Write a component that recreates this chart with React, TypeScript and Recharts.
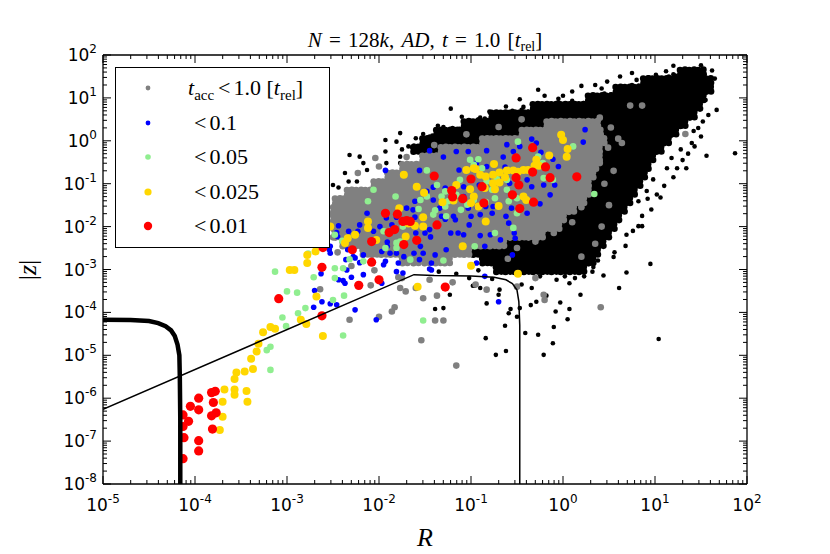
import React from "react";
import { ScatterChart, Scatter, XAxis, YAxis } from "recharts";

type P = [number, number]; // [log10 R, log10 |z|]
type Row = [number, number[]]; // [log10 |z|, log10 R values along that row]

const xExponents = [-5, -4, -3, -2, -1, 0, 1, 2];
const yExponents = [-8, -7, -6, -5, -4, -3, -2, -1, 0, 1, 2];
const minorSteps = [2, 3, 4, 5, 6, 7, 8, 9];

// dense black part of the cloud
const blackCore: Row[] = [
  [1.6, [1.3, 1.4, 1.5]],
  [1.4, [0.9, 1.0, 1.1, 1.2, 1.3, 1.4, 1.5, 1.58]],
  [1.2, [0.6, 0.7, 0.8, 0.9, 1.0, 1.1, 1.2, 1.3, 1.4, 1.5, 1.58]],
  [1.0, [0.3, 0.4, 0.5, 0.6, 0.7, 0.8, 0.9, 1.0, 1.1, 1.2, 1.3, 1.4, 1.5]],
  [0.8, [-0.3, -0.2, -0.1, 0.0, 0.1, 0.2, 0.3, 0.4, 0.5, 0.6, 0.7, 0.8, 0.9, 1.0, 1.1, 1.2, 1.3, 1.4, 1.46]],
  [0.6, [-0.75, -0.65, -0.55, -0.45, -0.35, -0.25, -0.15, -0.05, 0.05, 0.15, 0.25, 0.35, 0.45, 0.55, 0.65, 0.75, 0.85, 0.95, 1.05, 1.15, 1.25, 1.35, 1.4]],
  [0.4, [-1.05, -0.95, -0.85, -0.75, -0.65, -0.55, -0.45, -0.35, -0.25, -0.15, -0.05, 0.05, 0.15, 0.25, 0.35, 0.45, 0.55, 0.65, 0.75, 0.85, 0.95, 1.05, 1.15, 1.25, 1.3]],
  [0.2, [-1.35, -1.25, -1.15, -1.05, -0.95, -0.85, -0.75, -0.65, -0.55, -0.45, -0.35, -0.25, -0.15, -0.05, 0.05, 0.15, 0.25, 0.35, 0.45, 0.55, 0.65, 0.75, 0.85, 0.95, 1.05, 1.15, 1.2]],
  [0.0, [-1.5, -1.4, -1.3, -1.2, -1.1, -1.0, -0.9, 0.45, 0.55, 0.65, 0.75, 0.85, 0.95, 1.05, 1.12]],
  [-0.2, [-1.6, -1.5, -1.4, 0.45, 0.55, 0.65, 0.75, 0.85, 0.95, 1.04]],
  [-0.4, [0.45, 0.55, 0.65, 0.75, 0.85, 0.95]],
  [-0.6, [0.4, 0.5, 0.6, 0.7, 0.8, 0.9]],
  [-0.8, [0.4, 0.5, 0.6, 0.7, 0.8, 0.86]],
  [-1.0, [0.35, 0.45, 0.55, 0.65, 0.75, 0.81]],
  [-1.2, [0.3, 0.4, 0.5, 0.6, 0.7, 0.75]],
  [-1.4, [0.25, 0.35, 0.45, 0.55, 0.65, 0.7]],
  [-1.6, [0.15, 0.25, 0.35, 0.45, 0.55, 0.64]],
  [-1.8, [0.05, 0.15, 0.25, 0.35, 0.45, 0.52, 0.58]],
  [-2.0, [0.0, 0.1, 0.2, 0.3, 0.4, 0.48, 0.53]],
  [-2.2, [-0.25, -0.15, -0.05, 0.05, 0.15, 0.25, 0.35, 0.42, 0.47]],
  [-2.4, [-0.65, -0.55, -0.45, -0.35, -0.25, -0.15, -0.05, 0.05, 0.15, 0.25, 0.35, 0.41]],
  [-2.6, [-0.95, -0.85, -0.75, -0.65, -0.55, -0.45, -0.35, -0.25, -0.15, -0.05, 0.05, 0.15, 0.25, 0.35]],
  [-2.8, [-0.85, -0.75, -0.65, -0.55, -0.45, -0.35, -0.25, -0.15, -0.05, 0.05, 0.15, 0.25, 0.3]],
  [-3.0, [-0.7, -0.6, -0.5, -0.4, -0.3, -0.2, -0.1, 0.0, 0.1, 0.2]],
];

const blackSparse: P[] = [
  [-2.32, -0.33], [-2.21, -0.37], [-2.5, -1.03], [-2.37, -0.75], [-2.33, -0.95], [-1.93, -0.25],
  [-1.68, -0.13], [-1.62, -0.11], [-1.77, -0.37], [-1.92, -0.52], [-2.13, -0.68], [-1.22, 0.75],
  [-1.36, 0.35], [-1.77, 0.18], [-1.93, 0.02], [-1.81, -0.02], [-1.52, 0.16], [-0.98, 0.39],
  [-0.69, 0.59], [-0.49, 0.65], [-2.17, -0.52], [-2.24, -0.95], [-2.44, -1.09], [-1.77, -0.52],
  [-2.37, -1.76], [-0.9, 0.54], [-0.27, 1.19], [0.48, 1.38], [0.93, 1.48], [1.01, 1.54],
  [1.38, 1.66], [1.62, 1.64], [1.67, 0.72], [1.87, -0.29], [1.56, -0.35], [1.43, -0.13],
  [1.34, -0.64], [1.24, -0.64], [1.13, -0.64], [0.82, -1.41], [0.82, -1.99], [0.86, -1.99],
  [0.69, -2.19], [0.95, -2.87], [0.69, -3.07], [-0.47, 0.97], [-1.52, -0.05], [-1.23, -3.59],
  [-1.3, -3.9], [-1.39, -3.92], [-0.98, -3.38], [-0.96, -3.38], [-0.84, -4.6], [-0.73, -4.99],
  [-0.62, -4.9], [-0.63, -4.31], [-0.59, -4.02], [-0.57, -3.92], [-0.5, -4.1], [-0.41, -4.48],
  [-0.27, -4.52], [-0.21, -4.99], [-0.11, -4.72], [-0.1, -4.34], [-0.08, -3.98], [-0.03, -3.77],
  [0.05, -4.16], [0.07, -3.92], [0.19, -3.59], [0.44, -3.14], [0.61, -3.43], [1.04, -4.62],
  [-0.35, -3.83], [-0.29, -3.75], [-0.18, -3.61], [-0.7, -3.59], [-0.69, -3.47], [-0.83, -3.79],
  [0.02, -3.16], [0.13, -3.2], [0.22, -3.05], [0.33, -2.94], [0.43, -2.42], [-0.47, -3.9],
  [0.07, -3.32], [0.29, -2.56], [0.38, -2.79], [0.55, -2.71], [0.23, -3.16], [-0.07, -3.24],
  [-0.25, -3.16], [-0.34, -3.43], [-0.9, -3.43], [1.5, 0.1], [1.42, 0.23], [1.06, -1.32],
  [0.91, -1.17], [-0.43, 0.79], [0.8, 1.42], [0.1, 1.15], [0.2, 1.28], [0.62, 1.5],
  [0.75, 1.58], [1.2, 1.75], [1.5, 1.76], [1.56, 1.45], [1.6, 1.2], [1.55, 0.95],
  [1.52, 0.45], [1.47, 0.3], [1.36, -0.3], [1.3, -0.45], [1.2, -0.85], [1.1, -1.05],
  [1.02, -1.25], [0.96, -1.6], [0.86, -1.75], [0.76, -2.1], [0.68, -2.45], [0.56, -2.6],
  [-0.2, 1.05], [-0.62, 0.8], [-1.1, 0.56], [-1.3, 0.32], [-1.6, 0.06], [-1.75, -0.2],
  [-0.92, -3.02], [-0.77, -3.22], [-0.45, -3.35], [-0.15, -3.02], [0.06, -2.97], [0.32, -3.05],
  [-1.02, -3.2], [-1.16, -3.1], [-1.35, -3.05], [1.2, 1.55], [1.48, 1.3], [1.58, 0.6],
  [1.4, -0.05], [1.28, -0.2], [0.0, 1.05], [0.35, 1.3], [1.65, 1.45], [1.12, 1.62],
  [0.42, 1.22], [-0.05, 0.98], [-0.8, 0.68], [1.18, -0.4], [0.98, -0.9], [0.92, -1.35],
  [-0.05, 0.9], [0.1, 0.93], [0.22, 0.88], [0.45, 1.1], [0.52, 1.08], [0.75, 1.3],
  [0.82, 1.28], [1.15, 1.5], [1.22, 1.52], [-0.55, 0.7], [-0.45, 0.72], [-0.38, 0.68],
  [-0.92, 0.5], [-0.85, 0.52], [-1.2, 0.3], [-1.15, 0.28], [-1.45, 0.1], [-1.42, 0.12],
  [-0.45, -2.3], [-0.35, -2.28], [-0.8, -2.5], [-0.72, -2.52], [0.55, -1.9], [0.6, -1.7],
];

// grey band
const greyCore: Row[] = [
  [0.4, [-0.15, -0.05, 0.05, 0.15, 0.25, 0.35]],
  [0.2, [-0.42, -0.32, -0.22, -0.12, -0.02, 0.08, 0.18, 0.28, 0.38]],
  [0.0, [-0.85, -0.75, -0.65, -0.55, -0.45, -0.35, -0.25, -0.15, -0.05, 0.05, 0.15, 0.25, 0.35, 0.42]],
  [-0.2, [-1.3, -1.2, -1.1, -1.0, -0.9, -0.8, -0.7, -0.6, -0.5, -0.4, -0.3, -0.2, -0.1, 0.0, 0.1, 0.2, 0.3, 0.37]],
  [-0.4, [-1.5, -1.4, -1.3, -1.2, -1.1, -1.0, -0.9, -0.8, -0.7, -0.6, -0.5, -0.4, -0.3, -0.2, -0.1, 0.0, 0.1, 0.2, 0.3, 0.37]],
  [-0.6, [-1.72, -1.62, -1.52, -1.42, -1.32, -1.22, -1.12, -1.02, -0.92, -0.82, -0.72, -0.62, -0.52, -0.42, -0.32, -0.22, -0.12, -0.02, 0.08, 0.18, 0.28, 0.33]],
  [-0.8, [-1.88, -1.78, -1.68, -1.58, -1.48, -1.38, -1.28, -1.18, -1.08, -0.98, -0.88, -0.78, -0.68, -0.58, -0.48, -0.38, -0.28, -0.18, -0.08, 0.02, 0.12, 0.22, 0.3]],
  [-1.0, [-2.03, -1.93, -1.83, -1.73, -1.63, -1.53, -1.43, -1.33, -1.23, -1.13, -1.03, -0.93, -0.83, -0.73, -0.63, -0.53, -0.43, -0.33, -0.23, -0.13, -0.03, 0.07, 0.17, 0.25]],
  [-1.2, [-2.32, -2.22, -2.12, -2.02, -1.92, -1.82, -1.72, -1.62, -1.52, -1.42, -1.32, -1.22, -1.12, -1.02, -0.92, -0.82, -0.72, -0.62, -0.52, -0.42, -0.32, -0.22, -0.12, -0.02, 0.08, 0.18, 0.25]],
  [-1.4, [-2.45, -2.35, -2.25, -2.15, -2.05, -1.95, -1.85, -1.75, -1.65, -1.55, -1.45, -1.35, -1.25, -1.15, -1.05, -0.95, -0.85, -0.75, -0.65, -0.55, -0.45, -0.35, -0.25, -0.15, -0.05, 0.05, 0.15, 0.2]],
  [-1.6, [-2.47, -2.37, -2.27, -2.17, -2.07, -1.97, -1.87, -1.77, -1.67, -1.57, -1.47, -1.37, -1.27, -1.17, -1.07, -0.97, -0.87, -0.77, -0.67, -0.57, -0.47, -0.37, -0.27, -0.17, -0.07, 0.03, 0.09]],
  [-1.8, [-2.47, -2.37, -2.27, -2.17, -2.07, -1.97, -1.87, -1.77, -1.67, -1.57, -1.47, -1.37, -1.27, -1.17, -1.07, -0.97, -0.87, -0.77, -0.67, -0.57, -0.47, -0.37, -0.27, -0.17, -0.07, -0.02]],
  [-2.0, [-2.47, -2.37, -2.27, -2.17, -2.07, -1.97, -1.87, -1.77, -1.67, -1.57, -1.47, -1.37, -1.27, -1.17, -1.07, -0.97, -0.87, -0.77, -0.67, -0.57, -0.47, -0.37, -0.27, -0.17, -0.07]],
  [-2.2, [-2.45, -2.35, -2.25, -2.15, -2.05, -1.95, -1.85, -1.75, -1.65, -1.55, -1.45, -1.35, -1.25, -1.15, -1.05, -0.95, -0.85, -0.75, -0.65, -0.55, -0.45, -0.35, -0.25]],
  [-2.4, [-2.37, -2.27, -2.17, -2.07, -1.97, -1.87, -1.77, -1.67, -1.57, -1.47, -1.37, -1.27, -1.17, -1.07, -0.97, -0.87, -0.77, -0.67]],
  [-2.6, [-2.15, -2.05, -1.95, -1.85, -1.75, -1.65, -1.55, -1.45, -1.35, -1.25, -1.15, -1.05]],
  [-2.8, [-1.72, -1.6, -1.48, -1.36, -1.26]],
];

const greySparse: P[] = [
  [-1.77, -3.43], [-1.83, -3.88], [-1.86, -3.98], [-2.0, -4.1], [-2.32, -4.17], [-2.64, -3.46],
  [-1.71, -3.51], [-2.09, -3.37], [-1.79, -3.18], [-1.54, -4.65], [-1.52, -3.67], [-1.39, -4.19],
  [-1.3, -4.19], [-1.16, -5.24], [-0.83, -3.47], [-0.2, -3.71], [0.41, -3.88], [-1.45, -3.24],
  [-1.6, -3.43], [-1.37, -3.61], [-0.21, -3.59], [0.73, 0.82], [0.86, 0.82], [0.4, 0.54],
  [0.52, 0.31], [0.64, -0.05], [0.49, -0.16], [1.33, 0.16], [0.29, -0.33], [0.4, -0.52],
  [0.18, 0.14], [-2.23, -0.75], [-2.5, -1.69], [-2.35, -1.38], [-2.04, -0.4], [-2.55, -1.9],
  [-2.5, -2.25], [-2.45, -2.6], [-2.3, -2.92], [-2.05, -3.02], [-1.75, -3.2], [-1.2, -3.3],
  [-0.95, -3.35], [-0.5, -3.4], [-0.3, -3.2], [-2.6, -1.5], [-2.3, -1.15], [-2.0, -0.6],
  [-1.7, -0.38], [-1.4, -0.1], [-1.05, 0.15], [-0.7, 0.32], [-0.45, 0.5], [0.45, -1.0],
  [0.5, -1.5], [0.42, -2.0], [0.35, -2.4], [0.2, -2.7], [0.55, -0.7], [0.6, 0.05],
  [-0.5, -2.5], [-0.3, -2.35], [-0.6, -2.75], [0.1, -1.9], [0.2, -1.55], [-0.1, -2.15],
];

const bluePts: P[] = [
  [-2.26, -3.94], [-2.03, -4.17], [-2.71, -3.88], [-2.62, -3.75], [-2.53, -3.8], [-2.46, -3.82],
  [-2.37, -3.32], [-2.3, -3.18], [-2.17, -3.12], [-2.63, -3.1], [-1.81, -3.05], [-2.7, -3.49],
  [-2.35, -3.01], [-2.44, -3.24], [-2.39, -3.26], [-2.44, -1.98], [-2.46, -2.14], [-2.33, -2.11],
  [-2.53, -2.62], [-2.53, -2.46], [-2.36, -2.77], [-1.95, -2.89], [-1.79, -2.85], [-1.74, -3.08],
  [-1.81, -2.62], [-1.88, -2.62], [-1.97, -2.58], [-2.23, -2.11], [-2.17, -2.66], [-2.28, -2.7],
  [-1.45, -0.23], [-1.3, -0.38], [-1.93, -0.69], [-1.56, -0.69], [-1.13, -0.68], [-1.03, -0.25],
  [-0.83, -0.23], [-0.61, -0.09], [-1.41, -1.08], [-1.41, -1.38], [-1.34, -1.57], [-1.7, -1.57],
  [-1.63, -1.61], [-1.61, -1.78], [-1.81, -1.78], [-1.86, -1.96], [-1.92, -1.8], [-1.99, -2.0],
  [-2.06, -2.11], [-2.21, -1.96], [-2.13, -1.69], [-2.45, -2.23], [-2.54, -2.54], [-2.34, -2.54],
  [-2.26, -2.73], [-2.21, -2.84], [-1.93, -2.81], [-1.91, -2.46], [-1.73, -2.7], [-1.62, -2.62],
  [-1.56, -2.77], [-1.44, -2.24], [-1.45, -2.99], [-1.14, -2.15], [-1.02, -1.96], [-1.03, -1.57],
  [-0.9, -1.72], [-0.79, -2.19], [-0.62, -1.76], [-0.56, -1.57], [-1.19, -1.76], [-1.28, -1.83],
  [-1.48, -1.18], [-1.61, -1.41], [-1.28, -1.1], [-1.08, -1.3], [-0.65, -0.38], [-0.54, -0.25],
  [-0.76, -1.53], [-1.16, -0.25], [-0.47, -0.13], [-0.34, 0.04], [-0.29, -0.05], [-0.24, -0.27],
  [-0.11, -0.43], [-0.05, -0.6], [-0.09, -1.03], [-0.21, -1.03], [-0.14, -1.26], [-0.25, -1.47],
  [-0.39, -1.69], [0.24, 0.26], [0.22, -0.03], [-0.53, -2.15], [-0.68, -2.31], [-0.59, -1.92],
  [-0.85, -2.46], [-1.27, -2.54], [-1.43, -2.85], [-1.55, -2.46], [-0.34, -1.07], [-0.39, -0.91],
  [-0.58, -0.99], [-0.63, -0.61], [-0.75, -0.52], [-0.83, -0.6], [-0.94, -0.52], [-0.91, -1.03],
  [-1.08, -1.07], [-1.1, -1.34], [-0.94, -1.53], [-0.84, -1.53], [-0.77, -1.69], [-1.0, -1.76],
  [-1.17, -1.84], [-1.32, -1.76], [-1.45, -2.07], [-1.5, -2.15], [-1.22, -2.15], [-1.08, -2.19],
  [-1.39, -2.66], [-1.43, -3.01], [-0.94, -2.85], [-0.85, -3.16], [-0.55, -2.66], [-0.7, -3.75],
  [-0.52, -2.27], [-1.97, -3.32], [-1.52, -2.62], [-1.6, -2.15], [-1.91, -2.36], [-0.9, -2.21],
];

const greenPts: P[] = [
  [-3.13, -3.05], [-3.0, -3.51], [-2.89, -3.54], [-3.05, -4.12], [-3.01, -4.32], [-2.88, -4.02],
  [-2.8, -3.9], [-2.71, -3.18], [-2.48, -3.2], [-2.38, -3.61], [-2.39, -4.54], [-3.18, -5.34],
  [-3.22, -4.88], [-3.18, -4.8], [-2.5, -3.71], [-2.48, -2.97], [-2.32, -2.76], [-2.4, -2.33],
  [-2.48, -2.19], [-2.17, -2.81], [-1.93, -2.5], [-1.81, -2.38], [-1.95, -2.11], [-1.74, -2.0],
  [-2.06, -1.14], [-2.12, -1.41], [-1.82, -1.3], [-1.57, -1.59], [-1.48, -0.69], [-1.32, -1.3],
  [-1.16, -1.26], [-0.97, -0.56], [-0.97, -1.38], [-0.88, -0.64], [-0.74, -1.34], [-0.61, -1.14],
  [-0.5, -1.34], [-0.5, -1.69], [-0.74, -2.15], [-0.96, -2.46], [-1.3, -2.79], [-1.77, -2.35],
  [-1.81, -2.5], [-2.39, -2.97], [-2.77, -2.63], [-1.28, -1.53], [-1.27, -1.76], [-1.12, -0.91],
  [-1.01, -0.44], [-0.92, -0.43], [-0.72, -0.89], [-0.61, -0.91], [-1.41, -1.72], [0.11, -0.13],
  [-0.49, -0.02], [-0.27, -0.37], [-0.22, -0.52], [-0.21, -0.87], [-0.11, -0.91], [-0.59, -1.41],
  [-0.83, -0.95], [-0.77, -1.14], [-1.37, -1.03], [-1.28, -1.18], [-1.25, -1.41], [-1.04, -1.49],
  [-0.84, -1.43], [-1.55, -1.38], [-1.48, -1.3], [-1.39, -1.62], [-1.11, -1.61], [-0.54, -2.03],
  [0.34, -1.24], [-1.66, -2.77], [-1.52, -4.19],
];

const goldPts: P[] = [
  [-3.26, -4.46], [-3.18, -4.34], [-3.13, -4.38], [-2.85, -4.17], [-2.79, -4.27], [-2.61, -4.55],
  [-2.68, -3.63], [-3.31, -4.73], [-3.33, -4.91], [-3.39, -5.08], [-3.37, -5.32], [-3.55, -5.4],
  [-3.46, -5.38], [-3.57, -5.55], [-3.68, -5.8], [-3.57, -5.8], [-3.44, -5.83], [-3.57, -5.92],
  [-3.43, -6.08], [-3.7, -6.08], [-3.7, -6.43], [-3.73, -6.74], [-2.97, -3.01], [-2.92, -3.01],
  [-2.78, -2.66], [-2.69, -2.58], [-2.53, -2.0], [-2.34, -2.27], [-2.26, -2.19], [-2.12, -2.03],
  [-2.78, -2.85], [-2.37, -2.38], [-2.03, -2.31], [-1.73, -0.79], [-1.59, -1.07], [-1.51, -1.21],
  [-1.31, -1.43], [-1.16, -1.03], [-1.05, -0.68], [-0.95, -0.66], [-0.75, -0.54], [-0.63, -0.85],
  [-0.54, -0.69], [-0.74, -1.13], [-0.7, -1.52], [-0.84, -1.88], [-1.09, -2.46], [-1.0, -2.91],
  [-1.68, -1.93], [-1.61, -1.98], [-1.52, -2.0], [-1.52, -1.78], [-1.71, -2.23], [-1.78, -1.57],
  [-2.12, -1.88], [-1.01, -1.13], [-0.97, -1.3], [-0.85, -1.1], [-0.92, -1.53], [-0.76, -0.99],
  [-0.61, -0.69], [-0.49, -0.72], [-1.19, -1.39], [-0.9, -0.79], [-0.02, 0.14], [0.0, 0.02],
  [0.04, -0.37], [0.05, -0.19], [-0.15, -0.34], [-0.29, -0.44], [-0.31, -0.58], [-0.26, -0.58],
  [-0.38, -0.68], [-0.43, -0.68], [-0.69, -0.74], [-0.76, -0.79], [-0.84, -0.83], [-0.97, -0.64],
  [-0.69, -0.97], [-0.43, -1.3], [-0.4, -1.38], [-1.0, -1.45], [-0.49, -3.1], [-1.58, -3.4],
];

const redPts: P[] = [
  [-4.13, -6.39], [-4.13, -6.66], [-4.12, -6.92], [-4.13, -7.41], [-4.07, -6.54], [-4.05, -6.19],
  [-3.96, -6.0], [-3.96, -6.27], [-3.96, -6.99], [-3.96, -7.23], [-3.82, -5.87], [-3.8, -6.1],
  [-3.82, -6.41], [-3.81, -6.72], [-3.77, -6.34], [-3.78, -5.84], [-3.09, -3.68], [-2.62, -4.08],
  [-2.22, -3.37], [-2.0, -3.24], [-2.62, -2.95], [-2.61, -2.49], [-2.29, -2.54], [-2.08, -2.35],
  [-2.08, -2.83], [-1.89, -2.14], [-1.83, -2.07], [-1.73, -2.42], [-1.66, -1.88], [-1.4, -0.82],
  [-1.0, -0.89], [-0.88, -1.07], [-1.21, -1.16], [-1.2, -1.31], [-1.09, -1.35], [-0.86, -1.45],
  [-0.55, -1.26], [-0.51, -0.4], [-0.51, -0.86], [-1.93, -1.69], [-1.8, -1.71], [-1.74, -1.88],
  [-1.7, -1.86], [-1.37, -1.96], [-1.59, -2.32], [-0.47, -1.58], [-0.48, -1.03], [-0.33, -0.16],
  [-0.19, -0.61], [-0.14, -0.86], [-0.33, -0.73], [-0.32, -1.43], [0.15, -0.84], [-1.28, -3.41],
];

// thick curve on the left, thin line bending down near R = 0.34
const thickCurve: P[] = [
  [-5, -4.17], [-4.7, -4.18], [-4.5, -4.2], [-4.4, -4.25], [-4.32, -4.32], [-4.26, -4.42],
  [-4.22, -4.55], [-4.19, -4.75], [-4.17, -5.0], [-4.165, -5.5], [-4.16, -6.5], [-4.16, -8],
];
const thinCurve: P[] = [
  [-5, -6.26], [-1.62, -3.12], [-1.4, -3.14], [-1.0, -3.15], [-0.75, -3.18], [-0.62, -3.24],
  [-0.55, -3.33], [-0.5, -3.48], [-0.48, -3.75], [-0.47, -4.3], [-0.47, -8],
];

const toXY = (pts: P[]) => pts.map(([r, z]) => ({ R: 10 ** r, z: 10 ** z }));
const fromRows = (rows: Row[]) =>
  rows.flatMap(([z, rs]) => rs.map((r) => ({ R: 10 ** r, z: 10 ** z })));

const legendItems = [
  { key: "grey", color: "#808080", r: 2.4 },
  { key: "blue", color: "#0000ff", r: 2.4 },
  { key: "green", color: "#90ee90", r: 2.8 },
  { key: "gold", color: "#ffd700", r: 3.6 },
  { key: "red", color: "#ff0000", r: 4.2 },
];
const legendLabels = ["<1.0", "<0.1", "<0.05", "<0.025", "<0.01"];

const withMinor = (exps: number[]) =>
  exps.flatMap((e, i) =>
    i < exps.length - 1 ? [10 ** e, ...minorSteps.map((m) => m * 10 ** e)] : [10 ** e]
  );
const xTicks = withMinor(xExponents);
const yTicks = withMinor(yExponents);

const isMajor = (v: number) => Math.abs(Math.log10(v) - Math.round(Math.log10(v))) < 1e-6;
const expOf = (v: number) => Math.round(Math.log10(v));

const tickFont = "'DejaVu Sans', sans-serif";
const mathFont = "'Liberation Serif', 'DejaVu Serif', serif";

function BottomTick({ x, y, payload }: any) {
  const major = isMajor(payload.value);
  return (
    <g>
      <line x1={x} x2={x} y1={y} y2={y - (major ? 8 : 4)} stroke="#000" strokeWidth={1} />
      {major && (
        <text x={x} y={y + 27} textAnchor="middle" fontFamily={tickFont} fontSize={17} fill="#000">
          10<tspan dy={-8} fontSize={12}>{expOf(payload.value)}</tspan>
        </text>
      )}
    </g>
  );
}

function TopTick({ x, y, payload }: any) {
  const major = isMajor(payload.value);
  return <line x1={x} x2={x} y1={y} y2={y + (major ? 8 : 4)} stroke="#000" strokeWidth={1} />;
}

function LeftTick({ x, y, payload }: any) {
  const major = isMajor(payload.value);
  return (
    <g>
      <line x1={x} x2={x + (major ? 8 : 4)} y1={y} y2={y} stroke="#000" strokeWidth={1} />
      {major && (
        <text x={x - 6} y={y + 6} textAnchor="end" fontFamily={tickFont} fontSize={17} fill="#000">
          10<tspan dy={-8} fontSize={12}>{expOf(payload.value)}</tspan>
        </text>
      )}
    </g>
  );
}

function RightTick({ x, y, payload }: any) {
  const major = isMajor(payload.value);
  return <line x1={x} x2={x - (major ? 8 : 4)} y1={y} y2={y} stroke="#000" strokeWidth={1} />;
}

const dot = (r: number, color: string) => (p: any) =>
  <circle cx={p.cx} cy={p.cy} r={r} fill={color} />;

// a dense-region marker: a small clump of particle dots around the point
const clumpOffsets = [[0, 0], [-2.6, -2.2], [2.4, -2.5], [-2.3, 2.4], [2.7, 2.1]];
const clump = (r: number, color: string) => (p: any) => (
  <g>
    {clumpOffsets.map(([dx, dy], i) => (
      <circle key={i} cx={p.cx + dx} cy={p.cy + dy} r={r} fill={color} />
    ))}
  </g>
);

const frame = { stroke: "#000", strokeWidth: 1.3 };

export default function App() {
  return (
    <div style={{ position: "absolute", left: 0, top: 0, width: 830, height: 554, background: "#fff" }}>
      <ScatterChart width={830} height={554} margin={{ top: 0, right: 0, bottom: 0, left: 0 }}>
        <XAxis xAxisId="b" type="number" dataKey="R" scale="log" domain={[1e-5, 100]} allowDataOverflow
          ticks={xTicks} interval={0} tickLine={false} tickSize={0} tickMargin={0} height={70}
          axisLine={frame} tick={(p: any) => <BottomTick {...p} />} />
        <XAxis xAxisId="t" orientation="top" type="number" dataKey="R" scale="log" domain={[1e-5, 100]}
          allowDataOverflow ticks={xTicks} interval={0} tickLine={false} tickSize={0} tickMargin={0}
          height={55} axisLine={frame} tick={(p: any) => <TopTick {...p} />} />
        <YAxis yAxisId="l" type="number" dataKey="z" scale="log" domain={[1e-8, 100]} allowDataOverflow
          ticks={yTicks} interval={0} tickLine={false} tickSize={0} tickMargin={0} width={103}
          axisLine={frame} tick={(p: any) => <LeftTick {...p} />} />
        <YAxis yAxisId="r" orientation="right" type="number" dataKey="z" scale="log" domain={[1e-8, 100]}
          allowDataOverflow ticks={yTicks} interval={0} tickLine={false} tickSize={0} tickMargin={0}
          width={83} axisLine={frame} tick={(p: any) => <RightTick {...p} />} />

        <Scatter xAxisId="b" yAxisId="l" data={fromRows(blackCore)} shape={clump(3.3, "#000")} isAnimationActive={false} />
        <Scatter xAxisId="b" yAxisId="l" data={toXY(blackSparse)} shape={dot(2.3, "#000")} isAnimationActive={false} />
        <Scatter xAxisId="b" yAxisId="l" data={fromRows(greyCore)} shape={clump(3.3, "#808080")} isAnimationActive={false} />
        <Scatter xAxisId="b" yAxisId="l" data={toXY(greySparse)} shape={dot(3.3, "#808080")} isAnimationActive={false} />
        <Scatter xAxisId="b" yAxisId="l" data={toXY(bluePts)} shape={dot(2.8, "#0000ff")} isAnimationActive={false} />
        <Scatter xAxisId="b" yAxisId="l" data={toXY(greenPts)} shape={dot(3.3, "#90ee90")} isAnimationActive={false} />
        <Scatter xAxisId="b" yAxisId="l" data={toXY(goldPts)} shape={dot(4, "#ffd700")} isAnimationActive={false} />
        <Scatter xAxisId="b" yAxisId="l" data={toXY(redPts)} shape={dot(4.6, "#ff0000")} isAnimationActive={false} />
        <Scatter xAxisId="b" yAxisId="l" data={toXY(thinCurve)} fill="#000"
          line={{ stroke: "#000", strokeWidth: 1.5 }} shape={() => <g />} isAnimationActive={false} />
        <Scatter xAxisId="b" yAxisId="l" data={toXY(thickCurve)} fill="#000"
          line={{ stroke: "#000", strokeWidth: 4.5 }} shape={() => <g />} isAnimationActive={false} />
      </ScatterChart>

      <div style={{ position: "absolute", left: 10, width: 830, top: 30, textAlign: "center",
        fontFamily: mathFont, fontSize: 21, lineHeight: "20px", whiteSpace: "nowrap", wordSpacing: 2 }}>
        <i>N</i> = 128<i>k</i>, <i>AD</i>, <i>t</i> = 1.0 [<i>t</i>
        <span style={{ fontSize: 14, position: "relative", top: 4 }}>rel</span>]
      </div>

      <div style={{ position: "absolute", left: 375, width: 100, top: 525, textAlign: "center",
        fontFamily: mathFont, fontSize: 26, lineHeight: "26px", fontStyle: "italic" }}>R</div>

      <div style={{ position: "absolute", left: -22, width: 100, top: 257, height: 26, textAlign: "center",
        fontFamily: mathFont, fontSize: 26, lineHeight: "26px", transform: "rotate(-90deg)" }}>
        |<i>z</i>|
      </div>

      <div style={{ position: "absolute", left: 115, top: 67, width: 215, height: 181, boxSizing: "border-box",
        border: "1.5px solid #000", background: "#fff" }}>
        {legendItems.map((it, i) => {
          const cy = 20 + i * 34.5;
          return (
            <React.Fragment key={it.key}>
              <svg style={{ position: "absolute", left: 24, top: cy - 8 }} width={16} height={16}>
                <circle cx={8} cy={8} r={it.r} fill={it.color} />
              </svg>
              <div style={{ position: "absolute", left: i === 0 ? 72 : 78, top: cy - 11, fontFamily: mathFont,
                fontSize: 22, lineHeight: "22px", whiteSpace: "nowrap" }}>
                {i === 0 && (
                  <>
                    <i>t</i>
                    <span style={{ fontSize: 15, position: "relative", top: 5, marginRight: 4 }}>acc</span>
                  </>
                )}
                <span style={{ marginRight: 3 }}>&lt;</span>
                {legendLabels[i].slice(1)}
                {i === 0 && (
                  <>
                    {" "}[<i>t</i>
                    <span style={{ fontSize: 15, position: "relative", top: 5 }}>rel</span>]
                  </>
                )}
              </div>
            </React.Fragment>
          );
        })}
      </div>
    </div>
  );
}
